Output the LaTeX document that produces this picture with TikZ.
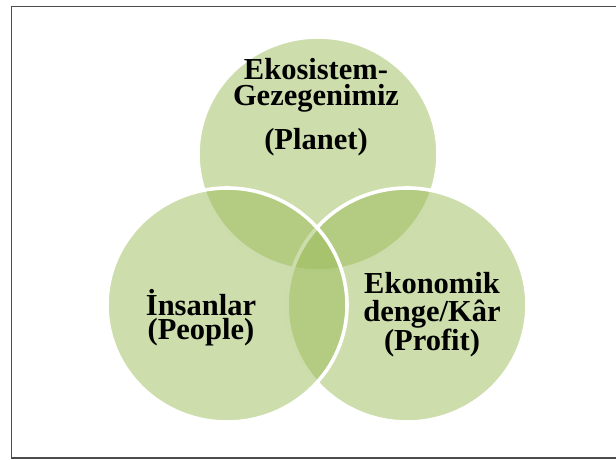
\documentclass[tikz,border=0pt]{standalone}
\usepackage{fontspec}
\setmainfont{Liberation Serif}
\usepackage{tikz}
\usetikzlibrary{positioning}
\definecolor{leafgreen}{HTML}{9BBB59}
\tikzset{bubble/.style={fill=leafgreen, fill opacity=0.5, draw=white, line width=3.6pt},
	tag/.style={font=\bfseries\fontsize{30.5}{25.5}\selectfont, align=center, inner sep=0pt, anchor=base}}

\begin{document}
\begin{tikzpicture}[x=1pt,y=-1pt]
	\useasboundingbox (0,0) rectangle (616,459);
	\draw[black!70, line width=1.1pt] (11.7,6.7) rectangle (620,458);
	\draw[bubble] (318,154) ellipse (120 and 117);
	\draw[bubble] (407,305) ellipse (120 and 117);
	\draw[bubble] (227,305) ellipse (120 and 117);
	\node[tag] (planet) at (316,149) {Ekosistem-\\Gezegenimiz\\[15pt](Planet)};
	\node[tag, font=\bfseries\fontsize{30.5}{24}\selectfont] (people) at (201,339) {İnsanlar\\(People)};
	\node[tag, font=\bfseries\fontsize{30.5}{28.5}\selectfont] (profit) at (432,350) {Ekonomik\\denge/Kâr\\(Profit)};
\end{tikzpicture}
\end{document}
